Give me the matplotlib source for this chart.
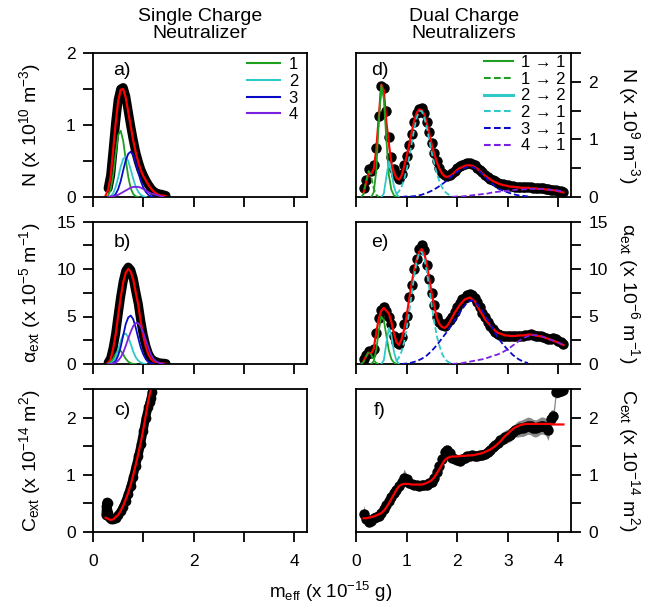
import numpy as np
import matplotlib.pyplot as plt
from matplotlib.lines import Line2D
from matplotlib.ticker import MultipleLocator

plt.rcParams['font.family'] = ['Liberation Sans', 'DejaVu Sans']
plt.rcParams['mathtext.fontset'] = 'custom'
plt.rcParams['mathtext.rm'] = 'Liberation Sans'
plt.rcParams['mathtext.it'] = 'Liberation Sans:italic'
plt.rcParams['mathtext.default'] = 'regular'

nan = np.nan


def grid(a, b, step):
    return np.round(np.arange(a, b + step / 2, step), 2)


# ---- single charge neutralizer (a, b, c) ----
x_single = grid(0.25, 1.45, 0.05)

a_data = [nan, 0.12, 0.30, 0.66, 1.04, 1.35, 1.50, 1.52, 1.40, 1.19,
          0.98, 0.79, 0.62, 0.49, 0.38, 0.30, 0.23, 0.17, 0.12, 0.08,
          0.06, 0.04, 0.04, 0.03, 0.02]
a_fit = [0.02, 0.10, 0.28, 0.65, 1.02, 1.33, 1.49, 1.50, 1.38, 1.18,
         0.98, 0.78, 0.62, 0.48, 0.37, 0.29, 0.23, 0.17, 0.12, 0.08,
         0.05, 0.03, 0.02, 0.02, 0.01]
a_c1 = [nan, 0.02, 0.10, 0.30, 0.60, 0.86, 0.92, 0.78, 0.52, 0.28,
        0.12, 0.04, 0.01, 0.0, nan, nan, nan, nan, nan, nan,
        nan, nan, nan, nan, nan]
a_c2 = [nan, nan, 0.01, 0.05, 0.14, 0.27, 0.42, 0.53, 0.56, 0.50,
        0.38, 0.25, 0.14, 0.07, 0.03, 0.01, 0.0, nan, nan, nan,
        nan, nan, nan, nan, nan]
a_c3 = [nan, nan, nan, 0.01, 0.04, 0.11, 0.22, 0.37, 0.51, 0.60,
        0.63, 0.58, 0.47, 0.34, 0.22, 0.13, 0.07, 0.03, 0.01, 0.0,
        nan, nan, nan, nan, nan]
a_c4 = [nan, 0.0, 0.01, 0.01, 0.02, 0.03, 0.05, 0.07, 0.09, 0.11,
        0.13, 0.14, 0.14, 0.14, 0.13, 0.11, 0.09, 0.07, 0.05, 0.04,
        0.03, 0.02, 0.01, 0.0, nan]

b_data = [nan, 0.15, 0.6, 1.7, 3.2, 5.2, 7.1, 8.7, 9.8, 10.2,
          9.9, 9.0, 7.6, 6.3, 4.5, 3.0, 1.9, 1.1, 0.6, 0.35,
          0.25, 0.15, 0.1, 0.08, 0.05]
b_fit = [0.0, 0.1, 0.5, 1.6, 3.1, 5.1, 7.0, 8.6, 9.6, 10.0,
         9.7, 8.9, 7.5, 6.2, 4.4, 2.9, 1.8, 1.0, 0.55, 0.3,
         0.2, 0.12, 0.08, 0.05, 0.03]
b_c1 = [nan, 0.05, 0.2, 0.55, 1.05, 1.45, 1.4, 1.0, 0.55, 0.25,
        0.08, 0.02, 0.0, nan, nan, nan, nan, nan, nan, nan,
        nan, nan, nan, nan, nan]
b_c2 = [nan, nan, 0.05, 0.25, 0.7, 1.5, 2.4, 3.1, 3.2, 2.8,
        2.1, 1.3, 0.7, 0.35, 0.15, 0.05, 0.0, nan, nan, nan,
        nan, nan, nan, nan, nan]
b_c3 = [nan, nan, nan, 0.1, 0.3, 0.9, 1.8, 3.0, 4.2, 4.9,
        5.1, 4.7, 3.8, 2.7, 1.7, 1.0, 0.5, 0.2, 0.08, 0.0,
        nan, nan, nan, nan, nan]
b_c4 = [nan, 0.0, 0.02, 0.05, 0.15, 0.35, 0.7, 1.2, 1.9, 2.7,
        3.4, 4.0, 4.3, 4.3, 3.9, 3.3, 2.5, 1.7, 1.0, 0.55,
        0.3, 0.15, 0.06, 0.0, nan]

c_fit_x = grid(0.25, 1.15, 0.05)
c_fit = [0.25, 0.23, 0.21, 0.22, 0.26, 0.30, 0.37, 0.46, 0.57, 0.69,
         0.83, 1.00, 1.18, 1.37, 1.57, 1.80, 2.05, 2.30, 2.50]
c_data_x = [0.25, 0.26, 0.27, 0.28, 0.29, 0.30, 0.31, 0.33, 0.36, 0.40,
            0.45, 0.50, 0.55, 0.60, 0.65, 0.70, 0.75, 0.80, 0.85, 0.90,
            0.95, 1.00, 1.05, 1.10, 1.13, 1.15, 1.17]
c_data_y = [0.30, 0.45, 0.52, 0.38, 0.50, 0.33, 0.27, 0.25, 0.23, 0.22,
            0.25, 0.30, 0.36, 0.44, 0.55, 0.67, 0.81, 0.97, 1.15, 1.33,
            1.53, 1.76, 2.00, 2.18, 2.28, 2.35, 2.45]

# ---- dual charge neutralizers (d, e, f) ----
x_dual = grid(0.15, 4.10, 0.05)

d_data = [0.15, 0.30, 0.48, 0.45, 0.55, 0.85, 1.40, 1.92, 1.90, 1.50,
          1.05, 0.70, 0.48, 0.38, 0.32, 0.40, 0.55, 0.72, 0.90, 1.10,
          1.30, 1.45, 1.53, 1.54, 1.45, 1.30, 1.12, 0.93, 0.76, 0.62,
          0.50, 0.42, 0.38, 0.37, 0.39, 0.42, 0.46, 0.50, 0.53, 0.56,
          0.58, 0.59, 0.59, 0.58, 0.55, 0.51, 0.47, 0.43, 0.39, 0.35,
          0.32, 0.29, 0.27, 0.25, 0.23, 0.22, 0.21, 0.20, 0.19, 0.19,
          0.18, 0.18, 0.18, 0.17, 0.17, 0.17, 0.17, 0.16, 0.16, 0.16,
          0.15, 0.15, 0.14, 0.14, 0.13, 0.12, 0.12, 0.11, 0.10, 0.09]
d_fit = [0.08, 0.25, 0.42, 0.40, 0.48, 0.82, 1.38, 1.95, 1.85, 1.30,
         0.92, 0.58, 0.43, 0.33, 0.30, 0.37, 0.52, 0.70, 0.90, 1.12,
         1.32, 1.46, 1.52, 1.51, 1.43, 1.28, 1.09, 0.90, 0.74, 0.60,
         0.49, 0.41, 0.36, 0.35, 0.36, 0.39, 0.43, 0.47, 0.50, 0.52,
         0.54, 0.55, 0.55, 0.54, 0.52, 0.49, 0.45, 0.41, 0.37, 0.34,
         0.31, 0.28, 0.26, 0.24, 0.22, 0.21, 0.20, 0.19, 0.18, 0.18,
         0.17, 0.17, 0.16, 0.16, 0.16, 0.16, 0.15, 0.15, 0.15, 0.14,
         0.14, 0.14, 0.13, 0.13, 0.12, 0.12, 0.11, 0.10, 0.09, 0.08]

x_11 = grid(0.30, 0.80, 0.05)
x_12 = grid(0.10, 0.45, 0.05)
x_22 = grid(0.50, 0.85, 0.05)
x_21 = grid(0.80, 1.95, 0.05)
x_31 = grid(0.90, 3.40, 0.10)
x_41 = grid(1.90, 4.10, 0.10)

d_11 = [0.0, 0.08, 0.45, 1.30, 1.94, 1.70, 1.00, 0.38, 0.12, 0.03, 0.0]
d_12 = [0.0, 0.05, 0.28, 0.45, 0.35, 0.15, 0.04, 0.0]
d_22 = [0.0, 0.06, 0.35, 0.62, 0.45, 0.18, 0.05, 0.0]
d_21 = [0.05, 0.10, 0.18, 0.30, 0.47, 0.68, 0.92, 1.17, 1.38, 1.49,
        1.49, 1.38, 1.20, 0.98, 0.76, 0.57, 0.40, 0.27, 0.17, 0.10,
        0.06, 0.03, 0.01, 0.0]
d_31 = [0.0, 0.01, 0.01, 0.02, 0.04, 0.07, 0.11, 0.16, 0.22, 0.29,
        0.37, 0.44, 0.49, 0.52, 0.52, 0.48, 0.40, 0.30, 0.22, 0.15,
        0.11, 0.08, 0.05, 0.03, 0.02, 0.01]
d_41 = [0.0, 0.01, 0.01, 0.02, 0.03, 0.04, 0.05, 0.06, 0.08, 0.09,
        0.10, 0.11, 0.12, 0.13, 0.13, 0.14, 0.14, 0.14, 0.14, 0.13,
        0.12, 0.11, 0.10]

e_data = [0.5, 1.0, 1.4, 1.2, 1.6, 3.3, 4.8, 5.7, 6.0, 5.6,
          5.0, 4.2, 3.0, 2.3, 2.1, 2.8, 4.2, 5.1, 7.1, 8.3,
          10.0, 11.1, 12.1, 12.5, 12.0, 10.4, 9.0, 7.5, 6.2, 5.0,
          4.4, 4.1, 4.0, 4.3, 4.6, 5.0, 5.5, 6.0, 6.4, 6.8,
          7.0, 7.3, 7.4, 7.3, 7.0, 6.5, 6.0, 5.4, 4.9, 4.4,
          4.0, 3.7, 3.4, 3.2, 3.1, 3.0, 3.0, 2.9, 2.9, 2.9,
          3.0, 3.0, 3.0, 3.0, 3.1, 3.1, 3.2, 3.1, 3.0, 3.0,
          2.9, 2.8, 2.7, 2.6, 2.6, 2.7, 2.6, 2.4, 2.3, 2.1]
e_fit = [0.3, 0.8, 1.2, 1.1, 1.6, 3.3, 4.8, 5.6, 5.9, 5.6,
         5.3, 4.4, 3.2, 2.3, 2.0, 2.6, 3.6, 5.0, 6.8, 8.5,
         9.9, 11.0, 11.8, 12.1, 11.6, 10.5, 8.9, 7.3, 6.0, 4.8,
         4.2, 3.9, 3.8, 4.0, 4.4, 4.9, 5.4, 5.8, 6.2, 6.5,
         6.8, 6.9, 7.0, 6.8, 6.6, 6.1, 5.6, 5.2, 4.7, 4.4,
         4.1, 3.8, 3.5, 3.3, 3.2, 3.1, 3.0, 3.0, 2.95, 2.95,
         2.95, 3.0, 3.0, 3.0, 3.05, 3.1, 3.1, 3.05, 3.0, 2.95,
         2.9, 2.85, 2.75, 2.65, 2.55, 2.45, 2.35, 2.25, 2.1, 2.0]

e_11 = [0.0, 0.3, 1.5, 3.5, 5.0, 4.6, 3.0, 1.4, 0.5, 0.15, 0.0]
e_12 = [0.0, 0.2, 0.8, 1.3, 1.0, 0.4, 0.1, 0.0]
e_22 = [0.0, 0.4, 2.2, 3.8, 3.0, 1.3, 0.35, 0.0]
e_21 = [0.3, 0.7, 1.3, 2.3, 3.7, 5.4, 7.3, 9.2, 10.8, 11.7,
        11.8, 11.1, 9.7, 7.9, 6.0, 4.3, 2.9, 1.9, 1.1, 0.6,
        0.3, 0.15, 0.05, 0.0]
e_31 = [0.0, 0.05, 0.15, 0.3, 0.55, 0.9, 1.4, 2.0, 2.7, 3.4,
        4.2, 5.0, 5.8, 6.5, 6.7, 6.3, 5.6, 4.7, 3.8, 2.8,
        2.1, 1.5, 0.95, 0.55, 0.25, 0.1]
e_41 = [0.0, 0.05, 0.1, 0.2, 0.3, 0.4, 0.5, 0.65, 0.85, 1.0,
        1.25, 1.55, 1.95, 2.35, 2.7, 2.95, 3.05, 3.0, 2.85, 2.65,
        2.45, 2.25, 2.0]

f_data = [0.32, 0.22, 0.18, 0.20, 0.24, 0.27, 0.28, 0.33, 0.40, 0.47,
          0.55, 0.62, 0.68, 0.74, 0.80, 0.87, 0.95, 0.92, 0.86, 0.84,
          0.83, 0.82, 0.81, 0.82, 0.82, 0.83, 0.85, 0.88, 0.95, 1.05,
          1.15, 1.28, 1.40, 1.44, 1.38, 1.29, 1.27, 1.26, 1.25, 1.28,
          1.30, 1.32, 1.33, 1.34, 1.33, 1.33, 1.34, 1.35, 1.37, 1.40,
          1.44, 1.48, 1.52, 1.56, 1.60, 1.63, 1.66, 1.68, 1.70, 1.74,
          1.78, 1.80, 1.81, 1.82, 1.84, 1.86, 1.85, 1.82, 1.81, 1.83,
          1.86, 1.86, 1.84, 1.78, 1.98, 2.02, 2.44, 2.45, 2.47, 2.48]
f_err = [0.15, 0.10, 0.06, 0.05, 0.05, 0.05, 0.05, 0.05, 0.05, 0.05,
         0.06, 0.06, 0.06, 0.06, 0.07, 0.10, 0.15, 0.10, 0.06, 0.05,
         0.05, 0.05, 0.05, 0.05, 0.05, 0.05, 0.05, 0.05, 0.05, 0.06,
         0.07, 0.07, 0.07, 0.07, 0.07, 0.07, 0.06, 0.06, 0.06, 0.06,
         0.06, 0.06, 0.06, 0.06, 0.06, 0.06, 0.06, 0.06, 0.08, 0.08,
         0.08, 0.08, 0.08, 0.10, 0.12, 0.12, 0.12, 0.12, 0.12, 0.12,
         0.12, 0.14, 0.14, 0.15, 0.15, 0.15, 0.15, 0.15, 0.15, 0.15,
         0.15, 0.15, 0.15, 0.18, 0.15, 0.12, 0.10, 0.10, 0.08, 0.08]
f_fit = [0.24, 0.24, 0.25, 0.26, 0.27, 0.29, 0.31, 0.33, 0.37, 0.43,
         0.50, 0.58, 0.66, 0.74, 0.80, 0.83, 0.84, 0.84, 0.84, 0.83,
         0.83, 0.83, 0.83, 0.83, 0.84, 0.86, 0.88, 0.91, 0.96, 1.03,
         1.10, 1.18, 1.25, 1.29, 1.31, 1.32, 1.32, 1.32, 1.33, 1.33,
         1.33, 1.34, 1.34, 1.34, 1.35, 1.36, 1.37, 1.38, 1.40, 1.42,
         1.44, 1.47, 1.50, 1.54, 1.58, 1.63, 1.68, 1.72, 1.76, 1.80,
         1.83, 1.85, 1.87, 1.88, 1.89, 1.89, 1.89, 1.89, 1.89, 1.89,
         1.89, 1.89, 1.89, 1.89, 1.89, 1.88, 1.88, 1.88, 1.88, 1.88]

single_labels = ['1', '2', '3', '4']
dual_labels = ['1 \u2192 1', '1 \u2192 2', '2 \u2192 2',
               '2 \u2192 1', '3 \u2192 1', '4 \u2192 1']

GREEN = '#1f9f1f'
CYAN = '#30c8c8'
BLUE = '#0a0ac8'
PURPLE = '#7a20e0'
RED = '#ff0000'
DASH = (0, (3.2, 1.6))

fig = plt.figure(figsize=(6.47, 6.10), dpi=100)
W, H = 647.0, 610.0


def make_ax(x0, x1, top, bot):
    return fig.add_axes([x0 / W, 1 - bot / H, (x1 - x0) / W, (bot - top) / H])


def style(ax, side, xlabels, xmajor, ymax, ymajor):
    ax.set_xlim(0, 4.25)
    ax.set_ylim(0, ymax)
    for s in ax.spines.values():
        s.set_linewidth(1.3)
    ax.xaxis.set_major_locator(MultipleLocator(xmajor))
    ax.xaxis.set_minor_locator(MultipleLocator(1))
    ax.yaxis.set_major_locator(MultipleLocator(ymajor))
    ax.yaxis.set_minor_locator(MultipleLocator(ymajor / 2))
    left = side == 'left'
    ax.tick_params(which='both', direction='out', length=7.5, width=1.3,
                   labelsize=12.5, top=False, bottom=True, left=left,
                   right=not left, labelleft=left, labelright=not left,
                   labelbottom=xlabels)
    ax.tick_params(axis='x', which='both', pad=8)
    ax.tick_params(axis='y', which='both', pad=5)


def ylab(ax, text, side):
    if side == 'left':
        ax.text(-0.266, 0.5, text, rotation=90, rotation_mode='anchor',
                ha='center', va='baseline', transform=ax.transAxes, fontsize=14)
    else:
        ax.text(1.242, 0.5, text, rotation=270, rotation_mode='anchor',
                ha='center', va='baseline', transform=ax.transAxes, fontsize=14)


def letter(ax, text, xf, yf):
    ax.text(xf, yf, text, transform=ax.transAxes, ha='center', va='center',
            fontsize=14)


rows = [(53, 197), (221.5, 364), (389, 532)]
ax_a = make_ax(93, 307, *rows[0])
ax_b = make_ax(93, 307, *rows[1])
ax_c = make_ax(93, 307, *rows[2])
ax_d = make_ax(356, 571, *rows[0])
ax_e = make_ax(356, 571, *rows[1])
ax_f = make_ax(356, 571, *rows[2])

# single charge panels
for ax, data, fit, comps in [(ax_a, a_data, a_fit, [a_c1, a_c2, a_c3, a_c4]),
                             (ax_b, b_data, b_fit, [b_c1, b_c2, b_c3, b_c4])]:
    ax.plot(x_single, data, color='k', lw=6.5, solid_capstyle='round',
            solid_joinstyle='round', zorder=1)
    ax.plot(x_single, fit, color=RED, lw=1.6, zorder=2)
    for yv, col in zip(comps, [GREEN, CYAN, BLUE, PURPLE]):
        ax.plot(x_single, yv, color=col, lw=1.3, zorder=3)

ax_c.plot(c_data_x, c_data_y, color='k', lw=6, marker='o', ms=6,
          solid_capstyle='round', solid_joinstyle='round', zorder=1)
ax_c.plot(c_fit_x, c_fit, color=RED, lw=1.6, zorder=2)

# dual charge panels
for ax, data, fit, comps in [(ax_d, d_data, d_fit, [d_11, d_12, d_22, d_21, d_31, d_41]),
                             (ax_e, e_data, e_fit, [e_11, e_12, e_22, e_21, e_31, e_41])]:
    ax.plot(x_dual, data, 'o', color='k', ms=6.5, zorder=1)
    ax.plot(x_dual, fit, color=RED, lw=1.6, zorder=2)
    specs = [(x_11, GREEN, '-'), (x_12, GREEN, DASH), (x_22, CYAN, '-'),
             (x_21, CYAN, DASH), (x_31, BLUE, DASH), (x_41, PURPLE, DASH)]
    for yv, (xv, col, ls) in zip(comps, specs):
        ax.plot(xv, yv, color=col, ls=ls, lw=1.3, zorder=3)

f_data_a = np.array(f_data)
f_err_a = np.array(f_err)
ax_f.fill_between(x_dual, f_data_a - f_err_a, f_data_a + f_err_a,
                  color='#8a8a8a', lw=0, zorder=0)
ax_f.plot(x_dual, f_data, 'o', color='k', ms=6.5, zorder=1)
ax_f.plot(x_dual, f_fit, color=RED, lw=1.6, zorder=2)

style(ax_a, 'left', False, 2, 2, 1)
style(ax_b, 'left', False, 2, 15, 5)
style(ax_c, 'left', True, 2, 2.5, 1)
style(ax_d, 'right', False, 1, 2.5, 1)
style(ax_e, 'right', False, 1, 15, 5)
style(ax_f, 'right', True, 1, 2.5, 1)

ylab(ax_a, 'N (x 10$^{10}$ m$^{-3}$)', 'left')
ylab(ax_b, '\u03b1$_{ext}$ (x 10$^{-5}$ m$^{-1}$)', 'left')
ylab(ax_c, 'C$_{ext}$ (x 10$^{-14}$ m$^{2}$)', 'left')
ylab(ax_d, 'N (x 10$^{9}$ m$^{-3}$)', 'right')
ylab(ax_e, '\u03b1$_{ext}$ (x 10$^{-6}$ m$^{-1}$)', 'right')
ylab(ax_f, 'C$_{ext}$ (x 10$^{-14}$ m$^{2}$)', 'right')

for ax, t in [(ax_a, 'a)'), (ax_b, 'b)'), (ax_c, 'c)')]:
    letter(ax, t, 0.135, 0.88 if t == 'a)' else 0.85)
for ax, t in [(ax_d, 'd)'), (ax_e, 'e)'), (ax_f, 'f)')]:
    letter(ax, t, 0.11, 0.88 if t == 'd)' else 0.85)

h_single = [Line2D([], [], color=c, lw=1.5) for c in [GREEN, CYAN, BLUE, PURPLE]]
ax_a.legend(h_single, single_labels, loc='upper left', bbox_to_anchor=(0.72, 0.97),
            frameon=False, fontsize=12, handlelength=2.0, handletextpad=0.5,
            labelspacing=0.1, borderpad=0, borderaxespad=0)

h_dual = [Line2D([], [], color=GREEN, lw=1.5),
          Line2D([], [], color=GREEN, lw=1.5, ls=DASH),
          Line2D([], [], color=CYAN, lw=2.2),
          Line2D([], [], color=CYAN, lw=1.5, ls=DASH),
          Line2D([], [], color=BLUE, lw=1.5, ls=DASH),
          Line2D([], [], color=PURPLE, lw=1.5, ls=DASH)]
ax_d.legend(h_dual, dual_labels, loc='upper left', bbox_to_anchor=(0.595, 0.985),
            frameon=False, fontsize=12, handlelength=1.75, handletextpad=0.5,
            labelspacing=0.1, borderpad=0, borderaxespad=0)

fig.text(200 / W, 1 - 25 / H, 'Single Charge\nNeutralizer', ha='center',
         va='center', fontsize=14, linespacing=1.0)
fig.text(464 / W, 1 - 25 / H, 'Dual Charge\nNeutralizers', ha='center',
         va='center', fontsize=14, linespacing=1.0)
fig.text(331 / W, 1 - 592 / H, 'm$_{eff}$ (x 10$^{-15}$ g)', ha='center',
         va='center', fontsize=13.5)

fig.savefig('out.png', dpi=100)
